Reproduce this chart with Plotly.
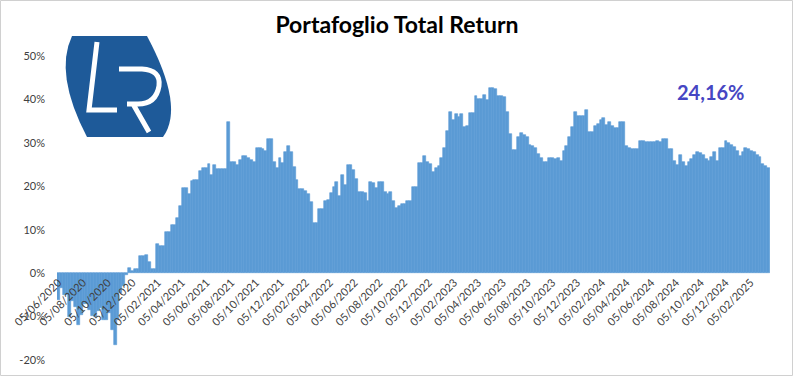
import pandas as pd
import plotly.graph_objects as go

# ---------------- data ----------------
start_date = "2020-06-05"
values = [
    -6.2, -3.5, -5, -5, -10, -6.5, -7.7, -12, -9.6, -7, -7, -8.5, -9.8, -10.2, -8.8, -8, -10.8, -10.8, -9.2, -13, -16.5, -10.8, -4.6, -3, -0.4,
    1.3, 0.5, 1.0, 1.0, 4.0, 4.0, 4.2, 2.5, 1.0, 1.0, 6.7, 6.3, 6.3, 9.4, 9.4, 11, 11, 12.8, 15.5, 19.5, 19.5, 18.2, 21.3, 21.5, 21.5,
    23.6, 24.2, 24.2, 25.2, 22.5, 25, 24, 23.9, 23.9, 23.9, 34.8, 25.7, 25.7, 25, 26, 27, 27, 26.6, 26, 25.7, 28.8, 28.8, 28.5, 28.2, 30.8,
    30.8, 25.7, 24.2, 26.5, 25.4, 27.8, 29.2, 27.8, 24.4, 21.5, 19.4, 19.4, 19, 18.2, 16.3, 11.5, 11.5, 14.8, 14.8, 16.7, 16.9, 18.5, 19.8, 21.1, 17.7,
    22.6, 20.3, 24.8, 24.8, 23.8, 21.7, 18.8, 18.8, 18.5, 16.7, 20.9, 20.8, 19.5, 21.1, 21.1, 18.8, 18.2, 18.8, 16.5, 14.9, 15.5, 15.9, 15.9, 16.7, 16.7,
    19.8, 19.8, 25.3, 25.3, 26.9, 25.5, 25.2, 23.4, 24.2, 24.6, 26.5, 28.8, 32.8, 37.1, 35.2, 36.7, 35.9, 36.7, 33.6, 33.8, 36.9, 36.9, 40.9, 40.2, 40.2,
    41.1, 39.8, 42.6, 42.6, 42.3, 40.9, 40.9, 40.5, 37.2, 32.1, 28.4, 28.4, 31.3, 32.2, 31.8, 31.3, 29.5, 29.2, 28.8, 27.5, 26.5, 25.5, 25.5, 26.5, 26.5,
    26.3, 26.5, 25.9, 28.2, 29.2, 31.3, 33.6, 37.2, 36.3, 36.2, 36.2, 37.5, 32.6, 32.6, 33.8, 34.4, 35.2, 35.7, 34.2, 34.8, 33.8, 33.4, 33.4, 34.8, 34.8,
    29.2, 28.8, 28.6, 28.6, 28.6, 30.5, 30.5, 30.3, 30.2, 30.2, 30.3, 30.5, 30.2, 30.8, 30.8, 28.5, 28.5, 25.9, 24.9, 27.1, 25.5, 24.6, 25.7, 26.3, 27.1,
    27.8, 27.7, 27.2, 26.3, 25.9, 26.7, 28, 25.9, 28.8, 28.8, 30.5, 30, 29.4, 29, 28.2, 26.9, 27.8, 28.8, 28.6, 28.2, 28, 27.1, 26.7, 25.2, 24.6, 24.16,
]
dates = pd.date_range(start_date, periods=len(values), freq="7D")

tick_dates = [
    "2020-06-05", "2020-08-05", "2020-10-05", "2020-12-05",
    "2021-02-05", "2021-04-05", "2021-06-05", "2021-08-05", "2021-10-05", "2021-12-05",
    "2022-02-05", "2022-04-05", "2022-06-05", "2022-08-05", "2022-10-05", "2022-12-05",
    "2023-02-05", "2023-04-05", "2023-06-05", "2023-08-05", "2023-10-05", "2023-12-05",
    "2024-02-05", "2024-04-05", "2024-06-05", "2024-08-05", "2024-10-05", "2024-12-05",
    "2025-02-05",
]
y_ticks = [-20, -10, 0, 10, 20, 30, 40, 50]
y_labels = ["-20%", "-10%", "0%", "10%", "20%", "30%", "40%", "50%"]
title_text = "Portafoglio Total Return"
last_label = "24,16%"

# ---------------- layout geometry ----------------
W, H = 794, 377
L, R, T, B = 57, 24, 56, 17
PW, PH = W - L - R, H - T - B
YMIN, YMAX = -20, 50


def px(x):
    return (x - L) / PW


def py(y):
    return (T + PH - y) / PH


def path(points_cmds):
    out = []
    for cmd in points_cmds:
        if isinstance(cmd, str):
            out.append(cmd)
        else:
            out.append(f"{px(cmd[0]):.5f},{py(cmd[1]):.5f}")
    return " ".join(out)


BAR = "#5B9BD5"
fig = go.Figure()
fig.add_trace(go.Bar(
    x=dates, y=values,
    marker=dict(color=BAR, line=dict(color=BAR, width=0.6)),
    hoverinfo="skip",
))

half = pd.Timedelta(days=3.5)
fig.update_layout(
    width=W, height=H,
    margin=dict(l=L, r=R, t=T, b=B, pad=0),
    paper_bgcolor="white", plot_bgcolor="white",
    bargap=0, showlegend=False,
    font=dict(family="Lato, 'Open Sans', sans-serif", color="#404040"),
    title=dict(text=title_text, x=0.5, xref="container", xanchor="center",
               y=1 - 25 / H, yref="container", yanchor="middle",
               font=dict(family="Lato", size=23, color="#000000", weight="bold")),
    xaxis=dict(
        type="date",
        range=[dates[0] - half, dates[-1] + half],
        tickvals=tick_dates, tickformat="%d/%m/%Y", tickangle=-45,
        tickfont=dict(family="Lato", size=11, color="#404040"),
        showgrid=False, showline=False, zeroline=False, ticks="",
        anchor="free", position=(0 - YMIN) / (YMAX - YMIN),
    ),
    yaxis=dict(
        range=[YMIN, YMAX], tickvals=y_ticks, ticktext=y_labels,
        tickfont=dict(family="Lato", size=11, color="#404040"),
        showgrid=False, zeroline=False, showline=False, ticks="",
        ticklabelstandoff=11,
    ),
)

shapes = []
# chart border
shapes.append(dict(type="rect", xref="paper", yref="paper",
                   x0=px(0.5), x1=px(W - 1.5), y0=py(H - 1.5), y1=py(0.5),
                   line=dict(color="#D0D0D0", width=1), fillcolor="rgba(0,0,0,0)", layer="above"))
# logo background
shapes.append(dict(type="path", xref="paper", yref="paper",
                   path=path(["M", (72, 36), "L", (147, 36), "Q", (185, 107), (163, 137),
                              "L", (87, 137), "Q", (54, 74), (72, 36), "Z"]),
                   fillcolor="#1E5A99", line=dict(width=0), layer="above"))
# letter L
shapes.append(dict(type="path", xref="paper", yref="paper",
                   path=path(["M", (97, 42), "L", (89, 110), "L", (117, 110)]),
                   line=dict(color="white", width=5), layer="above"))
# letter R
shapes.append(dict(type="path", xref="paper", yref="paper",
                   path=path(["M", (119, 69), "L", (142, 69), "Q", (161, 70), (159, 86),
                              "Q", (156, 104), (138, 104), "L", (127, 104),
                              "M", (133, 104), "L", (149, 132)]),
                   line=dict(color="white", width=5), layer="above"))
fig.update_layout(shapes=shapes)

fig.add_annotation(text=last_label, xref="paper", yref="paper",
                   x=px(710), y=py(92), xanchor="center", yanchor="middle",
                   showarrow=False,
                   font=dict(family="Lato", size=20, color="#4646C3", weight="bold"))

fig.write_html("out.html", config={"displayModeBar": False},
               post_script="document.body.style.margin='0';")
